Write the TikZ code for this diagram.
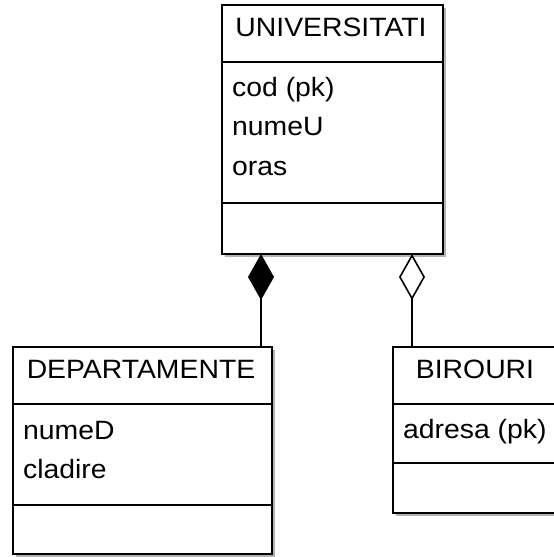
\documentclass[tikz,border=0pt]{standalone}
\usepackage{fontspec}
\setmainfont[FakeStretch=1.07]{Liberation Sans}
\usetikzlibrary{arrows.meta,shadows}
\begin{document}
\begin{tikzpicture}[x=1bp,y=-1bp,
  cls/.style={draw, line width=1.6bp, fill=white, inner sep=0pt, outer sep=0pt, anchor=north west,
    drop shadow={shadow xshift=3bp, shadow yshift=-3bp, fill=black!30, opacity=1}},
  div/.style={line width=1.6bp},
  hdr/.style={anchor=base, inner sep=0pt, font=\fontsize{26.5bp}{30bp}\selectfont},
  attr/.style={anchor=base west, inner sep=0pt, font=\fontsize{26.5bp}{30bp}\selectfont},
  comp/.style={line width=1.6bp, -{Diamond[length=46bp, width=26bp]}},
  agg/.style={line width=1.6bp, -{Diamond[open, length=46bp, width=26bp, fill=white]}},
]
\useasboundingbox (0,0) rectangle (554,557);
\fill[white] (0,0) rectangle (554,557);
\clip (0,0) rectangle (554,557);

% UNIVERSITATI
\node[cls, minimum width=221bp, minimum height=249bp] (univ) at (222,5) {};
\draw[div] (univ.west |- 0,62) -- (univ.east |- 0,62);
\draw[div] (univ.west |- 0,203) -- (univ.east |- 0,203);
\node[hdr] (univT) at (331,37) {UNIVERSITATI};
\node[attr] (univA1) at (232,97) {cod (pk)};
\node[attr] (univA2) at (232,136) {numeU};
\node[attr] (univA3) at (232,176) {oras};

% DEPARTAMENTE
\node[cls, minimum width=259bp, minimum height=207bp] (dep) at (13,347) {};
\draw[div] (dep.west |- 0,404) -- (dep.east |- 0,404);
\draw[div] (dep.west |- 0,505) -- (dep.east |- 0,505);
\node[hdr] (depT) at (141,378) {DEPARTAMENTE};
\node[attr] (depA1) at (23,439) {numeD};
\node[attr] (depA2) at (23,478) {cladire};

% BIROURI
\node[cls, minimum width=167bp, minimum height=166bp] (bir) at (393,347) {};
\draw[div] (bir.west |- 0,404) -- (bir.east |- 0,404);
\draw[div] (bir.west |- 0,463) -- (bir.east |- 0,463);
\node[hdr] (birT) at (475,378) {BIROURI};
\node[attr] (birA1) at (403,438) {adresa (pk)};

% connectors
\coordinate (cx) at (261,300);
\coordinate (ax) at (412,300);
\draw[comp] (dep.north -| cx) -- (univ.south -| cx);
\draw[agg] (bir.north -| ax) -- (univ.south -| ax);
\end{tikzpicture}
\end{document}
